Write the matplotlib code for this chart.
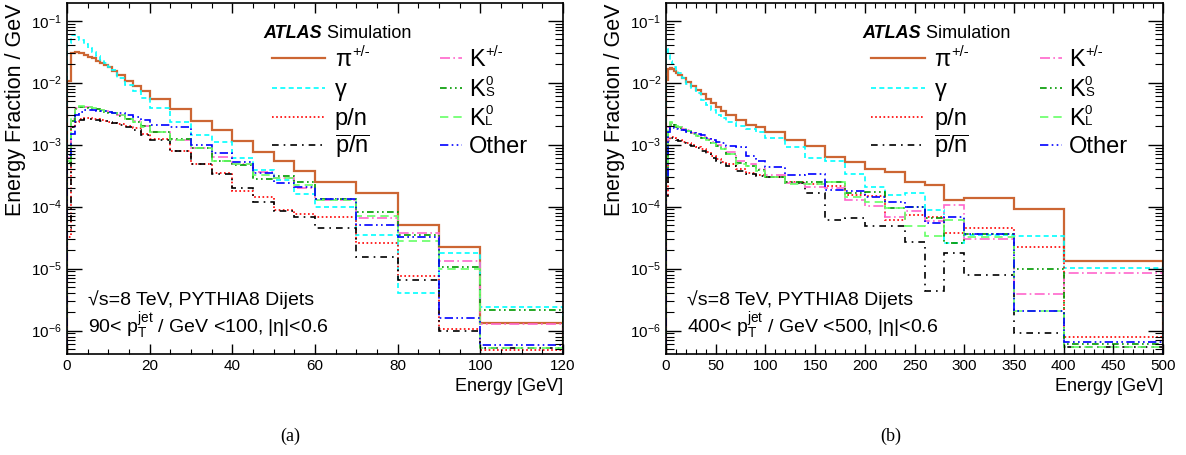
import numpy as np
import matplotlib
matplotlib.use("Agg")
import matplotlib.pyplot as plt
from matplotlib.ticker import MultipleLocator, LogLocator, NullFormatter

plt.rcParams['font.family'] = ['Liberation Sans', 'DejaVu Sans']
plt.rcParams['mathtext.fontset'] = 'custom'
plt.rcParams['mathtext.rm'] = 'Liberation Sans'
plt.rcParams['mathtext.it'] = 'Liberation Sans:italic'
plt.rcParams['mathtext.bf'] = 'Liberation Sans:bold'

# ---- panel (a): 90 < pT < 100 GeV ----
edges_a = [0, 1, 2, 3, 4, 5, 6, 7, 8, 9, 10, 11, 12, 14, 16, 18, 20, 25, 30, 35, 40,
           45, 50, 55, 60, 70, 80, 90, 100, 120]
pi_a = [0.0108, 0.0305, 0.031, 0.0298, 0.028, 0.0263, 0.0247, 0.0226, 0.021, 0.0193,
        0.0177, 0.0155, 0.0133, 0.0106, 0.0089, 0.0074, 0.0055, 0.0037, 0.0024, 0.0017,
        0.00116, 7.7e-4, 5.5e-4, 3.8e-4, 2.5e-4, 1.64e-4, 5.1e-5, 2.26e-5, 1.35e-6]
gam_a = [0.043, 0.059, 0.054, 0.048, 0.042, 0.036, 0.031, 0.027, 0.023, 0.0205,
         0.018, 0.016, 0.0117, 0.0092, 0.0074, 0.0056, 0.0039, 0.0023, 0.00143, 0.00109,
         6.2e-4, 3.9e-4, 2.7e-4, 1.58e-4, 1.0e-4, 3.5e-5, 4.1e-6, 1.81e-5, 2.4e-6]
pn_a = [3.3e-5, 1.95e-3, 2.36e-3, 2.57e-3, 2.66e-3, 2.66e-3, 2.62e-3, 2.57e-3, 2.5e-3,
        2.41e-3, 2.32e-3, 2.26e-3, 2.16e-3, 2.0e-3, 1.84e-3, 1.5e-3, 1.24e-3, 8.0e-4,
        4.9e-4, 3.5e-4, 1.8e-4, 1.41e-4, 8.9e-5, 7.5e-5, 6.8e-5, 2.6e-5, 7.6e-6, 1.05e-6, 4.8e-7]
pnbar_a = [4.5e-5, 1.9e-3, 2.3e-3, 2.5e-3, 2.6e-3, 2.62e-3, 2.58e-3, 2.52e-3, 2.45e-3,
           2.37e-3, 2.28e-3, 2.2e-3, 2.1e-3, 1.93e-3, 1.75e-3, 1.45e-3, 1.2e-3, 7.8e-4,
           4.9e-4, 3.4e-4, 2.0e-4, 1.2e-4, 8.5e-5, 6.9e-5, 4.5e-5, 1.53e-5, 6.6e-6, 1.0e-6, 5.2e-7]
kpm_a = [6e-4, 2.6e-3, 3.9e-3, 4.1e-3, 4.1e-3, 4.0e-3, 3.9e-3, 3.8e-3, 3.6e-3, 3.5e-3,
         3.4e-3, 3.3e-3, 3.0e-3, 2.6e-3, 2.4e-3, 2.0e-3, 1.6e-3, 1.2e-3, 8.7e-4, 6.3e-4,
         4.9e-4, 3.6e-4, 2.9e-4, 2.0e-4, 1.3e-4, 6.5e-5, 3.7e-5, 1.33e-5, 1.3e-6]
ks_a = [5e-4, 2.4e-3, 3.8e-3, 4.0e-3, 4.0e-3, 3.9e-3, 3.8e-3, 3.7e-3, 3.5e-3, 3.4e-3,
        3.3e-3, 3.2e-3, 2.9e-3, 2.6e-3, 2.3e-3, 2.0e-3, 1.6e-3, 1.25e-3, 8.7e-4, 5.5e-4,
        4.7e-4, 2.75e-4, 3.16e-4, 2.53e-4, 1.33e-4, 8.3e-5, 3.5e-5, 1.05e-5, 2.16e-6]
kl_a = [5.5e-4, 2.7e-3, 4.0e-3, 4.2e-3, 4.1e-3, 4.0e-3, 3.9e-3, 3.8e-3, 3.6e-3, 3.5e-3,
        3.35e-3, 3.2e-3, 3.0e-3, 2.6e-3, 2.35e-3, 1.9e-3, 1.6e-3, 1.2e-3, 8.7e-4, 5.5e-4,
        4.9e-4, 3.3e-4, 2.9e-4, 2.2e-4, 1.3e-4, 7.0e-5, 2.8e-5, 1.0e-5, 5.2e-7]
other_a = [6.8e-4, 1.5e-3, 3.0e-3, 3.4e-3, 3.6e-3, 3.6e-3, 3.6e-3, 3.55e-3, 3.5e-3, 3.45e-3,
           3.4e-3, 3.3e-3, 3.2e-3, 3.0e-3, 2.8e-3, 2.5e-3, 2.1e-3, 1.9e-3, 1.0e-3, 7.4e-4,
           5.3e-4, 3.5e-4, 2.4e-4, 2.06e-4, 1.33e-4, 5.0e-5, 3.2e-5, 1.6e-6, 5.8e-7]

# ---- panel (b): 400 < pT < 500 GeV ----
edges_b = [0, 2, 4, 6, 8, 10, 12, 16, 20, 25, 30, 35, 40, 45, 50, 55, 60, 70, 80, 90, 100,
           120, 140, 160, 180, 200, 220, 240, 260, 280, 300, 350, 400, 500]
pi_b = [0.011, 0.0165, 0.017, 0.0166, 0.0155, 0.0145, 0.0133, 0.0117, 0.0104, 0.0089,
        0.0076, 0.0065, 0.0054, 0.00465, 0.004, 0.0035, 0.003, 0.0025, 0.0021, 0.00195,
        0.0016, 0.0012, 9.5e-4, 6.3e-4, 5.2e-4, 4.0e-4, 3.67e-4, 2.54e-4, 2.2e-4, 1.29e-4,
        1.37e-4, 9.2e-5, 1.33e-5]
gam_b = [0.035, 0.028, 0.0226, 0.02, 0.018, 0.016, 0.0141, 0.0117, 0.0095, 0.0081,
         0.0068, 0.0053, 0.0044, 0.0036, 0.003, 0.0027, 0.0023, 0.002, 0.0018, 0.0016,
         0.0013, 9.3e-4, 6.0e-4, 5.5e-4, 3.4e-4, 2.1e-4, 1.55e-4, 1.64e-4, 8.9e-5, 2.6e-5,
         3.5e-5, 3.4e-5, 1.03e-5]
pn_b = [1.5e-4, 1.2e-3, 1.35e-3, 1.35e-3, 1.3e-3, 1.25e-3, 1.2e-3, 1.1e-3, 1.05e-3, 1.0e-3,
        9.3e-4, 8.5e-4, 7.5e-4, 6.5e-4, 5.8e-4, 5.3e-4, 4.8e-4, 4.0e-4, 3.5e-4, 3.2e-4,
        3.0e-4, 2.5e-4, 2.3e-4, 2.16e-4, 1.54e-4, 1.5e-4, 6.1e-5, 7.3e-5, 6.9e-5, 3.7e-5,
        4.6e-5, 2.26e-5, 8e-7]
pnbar_b = [1.5e-4, 1.15e-3, 1.3e-3, 1.3e-3, 1.25e-3, 1.2e-3, 1.15e-3, 1.05e-3, 1.0e-3, 9.5e-4,
           9.0e-4, 8.0e-4, 7.0e-4, 6.0e-4, 5.5e-4, 5.0e-4, 4.5e-4, 3.8e-4, 3.4e-4, 3.1e-4,
           3.05e-4, 2.4e-4, 1.68e-4, 6.0e-5, 6.5e-5, 4.9e-5, 4.9e-5, 2.7e-5, 4.4e-6, 1.8e-5,
           8e-6, 9e-7, 5.5e-7]
kpm_b = [4e-4, 1.9e-3, 2.2e-3, 2.2e-3, 2.1e-3, 2.0e-3, 1.9e-3, 1.8e-3, 1.7e-3, 1.55e-3,
         1.45e-3, 1.35e-3, 1.25e-3, 1.1e-3, 1.0e-3, 9e-4, 7.5e-4, 5.5e-4, 4.8e-4, 4.0e-4,
         3.2e-4, 2.4e-4, 2.1e-4, 2.0e-4, 1.3e-4, 1.03e-4, 6.9e-5, 8.6e-5, 5.8e-5, 1.05e-4,
         3.0e-5, 3.9e-6, 8.5e-6]
ks_b = [3e-4, 1.8e-3, 2.1e-3, 2.15e-3, 2.05e-3, 1.95e-3, 1.85e-3, 1.75e-3, 1.65e-3, 1.5e-3,
        1.4e-3, 1.3e-3, 1.2e-3, 1.05e-3, 9.5e-4, 8.5e-4, 7.0e-4, 5.0e-4, 4.6e-4, 3.9e-4,
        3.0e-4, 2.5e-4, 2.53e-4, 2.5e-4, 1.64e-4, 1.72e-4, 9.4e-5, 1.0e-4, 6.5e-5, 2.6e-5,
        3.6e-5, 1.0e-5, 6.0e-7]
kl_b = [4e-4, 2.0e-3, 2.3e-3, 2.2e-3, 2.1e-3, 2.0e-3, 1.9e-3, 1.8e-3, 1.65e-3, 1.5e-3,
        1.4e-3, 1.3e-3, 1.2e-3, 1.05e-3, 9.5e-4, 8.5e-4, 7.0e-4, 4.8e-4, 4.6e-4, 3.8e-4,
        3.0e-4, 2.3e-4, 2.3e-4, 2.53e-4, 1.45e-4, 1.2e-4, 9.4e-5, 4.9e-5, 3.4e-5, 6.1e-5,
        3.3e-5, 2.1e-6, 5.5e-7]
other_b = [3e-4, 1.6e-3, 1.9e-3, 1.9e-3, 1.85e-3, 1.8e-3, 1.75e-3, 1.7e-3, 1.6e-3, 1.55e-3,
           1.5e-3, 1.45e-3, 1.3e-3, 1.2e-3, 1.1e-3, 1.05e-3, 9.5e-4, 9.3e-4, 6.5e-4, 5.5e-4,
           4.4e-4, 3.2e-4, 3.4e-4, 1.86e-4, 1.76e-4, 1.45e-4, 1.2e-4, 1.0e-4, 5.4e-5, 6.9e-5,
           3.6e-5, 2.1e-6, 6.6e-7]

# legend labels as (main, superscript, subscript)
labels = [('π', '+/-', None), ('γ', None, None), ('p/n', None, None),
          (r'$\overline{\mathrm{p}}/\overline{\mathrm{n}}$', None, None),
          ('K', '+/-', None), ('K', '0', 'S'), ('K', '0', 'L'), ('Other', None, None)]
styles = [
    dict(color='#cc6633', lw=1.6, ls='-'),
    dict(color='#00ffff', lw=1.2, ls=(0, (3, 2))),
    dict(color='#ff0000', lw=1.2, ls=(0, (1, 1.5))),
    dict(color='black', lw=1.2, ls=(0, (4, 3, 1, 3))),
    dict(color='#ff66cc', lw=1.2, ls=(0, (6, 2, 1, 2))),
    dict(color='#009900', lw=1.2, ls=(0, (4, 2, 1, 2, 1, 2))),
    dict(color='#66ff66', lw=1.2, ls=(0, (5, 3))),
    dict(color='#0000ff', lw=1.2, ls=(0, (5, 2, 1, 2, 1, 2))),
]

YMIN, YMAX = 4.2e-7, 0.193

fig = plt.figure(figsize=(11.86, 4.55), dpi=100)
ax_a = fig.add_axes([0.0565, 0.222, 0.4182, 0.7714])
ax_b = fig.add_axes([0.5616, 0.222, 0.4191, 0.7714])


def legend_entry(ax, x0, x1, xt, y, st, lab):
    # handle line at row centre, label baseline slightly lower
    ax.plot([x0, x1], [y, y], transform=ax.transAxes, clip_on=False, **st)
    main, sup, sub = lab
    t = ax.text(xt, y - 0.023, main, transform=ax.transAxes, fontsize=17, va='baseline')
    # text bbox bottom sits ~3.6 pt below the baseline for 17 pt Liberation Sans
    if sup and sub:
        # stacked 0 over S/L in one text block
        ax.annotate(sup + '\n' + sub, xy=(1, 0), xycoords=t, xytext=(0.5, 3.6 + 6.3),
                    textcoords='offset points', fontsize=9.5, va='center',
                    linespacing=0.85)
    elif sup:
        ax.annotate(sup, xy=(1, 0), xycoords=t, xytext=(0.5, 3.6 + 7),
                    textcoords='offset points', fontsize=10.5, va='baseline')


def draw_panel(ax, edges, series, xmax, major, minor, ptlabel):
    for vals, st in zip(series, styles):
        ax.stairs(vals, edges, baseline=1e-9, fill=False, **st)
    ax.set_yscale('log')
    ax.set_xlim(0, xmax)
    ax.set_ylim(YMIN, YMAX)
    ax.xaxis.set_major_locator(MultipleLocator(major))
    ax.xaxis.set_minor_locator(MultipleLocator(minor))
    ax.yaxis.set_major_locator(LogLocator(base=10, numticks=12))
    ax.yaxis.set_minor_locator(LogLocator(base=10, subs=np.arange(2, 10), numticks=12))
    ax.yaxis.set_minor_formatter(NullFormatter())
    ax.tick_params(which='both', direction='in', top=True, right=True, labelsize=11)
    ax.tick_params(axis='x', which='major', length=7, width=1)
    ax.tick_params(axis='x', which='minor', length=3.5, width=0.8)
    ax.tick_params(axis='y', which='major', length=11, width=1)
    ax.tick_params(axis='y', which='minor', length=6, width=0.8)
    for s in ax.spines.values():
        s.set_linewidth(1.2)
    ax.set_xlabel('Energy [GeV]', loc='right', fontsize=13)
    ax.set_ylabel('Energy Fraction / GeV', loc='top', fontsize=15.5)

    rows = [0.843, 0.758, 0.675, 0.595]
    for i in range(4):
        legend_entry(ax, 0.413, 0.520, 0.540, rows[i], styles[i], labels[i])
        legend_entry(ax, 0.752, 0.796, 0.810, rows[i], styles[i + 4], labels[i + 4])

    t = ax.text(0.395, 0.9, 'ATLAS', transform=ax.transAxes, fontsize=13,
                fontweight='bold', fontstyle='italic', va='baseline')
    ax.annotate(' Simulation', xy=(1, 0), xycoords=t, fontsize=13, va='bottom')

    ax.text(0.042, 0.14, '√s=8 TeV, PYTHIA8 Dijets', transform=ax.transAxes, fontsize=14)
    ax.text(0.042, 0.06, ptlabel, transform=ax.transAxes, fontsize=14)


draw_panel(ax_a, edges_a, [pi_a, gam_a, pn_a, pnbar_a, kpm_a, ks_a, kl_a, other_a],
           120, 20, 5, r'90< $\mathrm{p}_{\mathrm{T}}^{\mathrm{jet}}$ / GeV <100, |η|<0.6')
draw_panel(ax_b, edges_b, [pi_b, gam_b, pn_b, pnbar_b, kpm_b, ks_b, kl_b, other_b],
           500, 50, 10, r'400< $\mathrm{p}_{\mathrm{T}}^{\mathrm{jet}}$ / GeV <500, |η|<0.6')

fig.text(0.2445, 0.04, '(a)', ha='center', va='center', family='Liberation Serif', fontsize=13)
fig.text(0.751, 0.04, '(b)', ha='center', va='center', family='Liberation Serif', fontsize=13)

fig.savefig('out.png', dpi=100)
